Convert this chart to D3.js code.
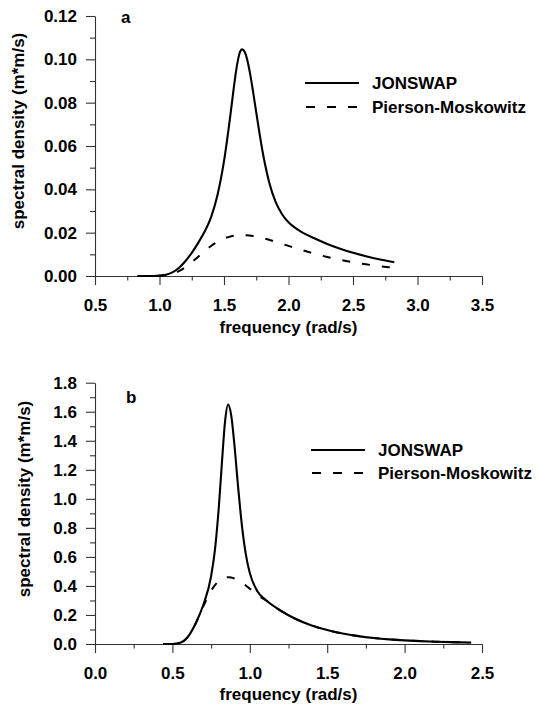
<!DOCTYPE html>
<html>
<head>
<meta charset="utf-8">
<script src="https://cdn.jsdelivr.net/npm/d3@7"></script>
<style>
  html, body { margin: 0; padding: 0; background: #fff; }
  svg text { font-family: "Liberation Sans", Arial, Helvetica, sans-serif; font-weight: bold; fill: #000; }
</style>
</head>
<body>
<svg id="chart" width="539" height="710"></svg>
<script>
// Panel a: short-fetch wind sea spectrum
const freqA = [0.83, 0.9, 0.95, 1.0, 1.05, 1.1, 1.15, 1.2, 1.25, 1.3, 1.35, 1.4, 1.45, 1.5, 1.55, 1.575, 1.6, 1.62, 1.64, 1.66, 1.68, 1.7, 1.725, 1.75, 1.8, 1.85, 1.9, 1.95, 2.0, 2.05, 2.1, 2.2, 2.3, 2.4, 2.5, 2.6, 2.7, 2.8, 2.82];
const jonswapA = [0, 0, 0.00003, 0.00016, 0.0006, 0.0017, 0.0037, 0.0068, 0.0107, 0.0153, 0.0205, 0.0272, 0.0375, 0.0530, 0.0745, 0.0865, 0.0970, 0.1027, 0.1046, 0.1035, 0.0998, 0.0941, 0.0852, 0.0755, 0.0571, 0.0433, 0.0342, 0.0285, 0.0248, 0.0223, 0.0204, 0.0174, 0.0148, 0.0126, 0.0107, 0.0091, 0.0077, 0.0066, 0.0064];
const pmA = [0, 0, 0.00002, 0.00009, 0.00036, 0.00101, 0.00221, 0.00402, 0.00631, 0.00888, 0.01147, 0.01383, 0.01579, 0.01727, 0.01826, 0.01858, 0.01878, 0.01887, 0.0189, 0.01887, 0.01879, 0.01867, 0.01845, 0.01818, 0.0175, 0.01669, 0.0158, 0.01485, 0.0139, 0.01295, 0.01204, 0.0103, 0.0088, 0.00749, 0.00636, 0.0054, 0.0046, 0.00393, 0.0038];

// Panel b: longer-period sea spectrum
const freqB = [0.44, 0.5, 0.55, 0.6, 0.65, 0.7, 0.75, 0.775, 0.8, 0.82, 0.84, 0.86, 0.88, 0.9, 0.925, 0.95, 0.975, 1.0, 1.05, 1.1, 1.2, 1.3, 1.4, 1.5, 1.6, 1.7, 1.8, 1.9, 2.0, 2.1, 2.2, 2.3, 2.43];
const jonswapB = [0, 0.0004, 0.0085, 0.0497, 0.1416, 0.2704, 0.4665, 0.6505, 0.9448, 1.2506, 1.532, 1.65, 1.5744, 1.3794, 1.0757, 0.8074, 0.6144, 0.4889, 0.362, 0.306, 0.229, 0.171, 0.128, 0.0965, 0.072, 0.0544, 0.0416, 0.0321, 0.0251, 0.0198, 0.0158, 0.0127, 0.0097];
const pmB = [0, 0.0004, 0.0085, 0.0497, 0.1412, 0.2605, 0.3667, 0.406, 0.4342, 0.449, 0.4574, 0.46, 0.4577, 0.4511, 0.4383, 0.4216, 0.4022, 0.3812, 0.3372, 0.303, 0.229, 0.171, 0.128, 0.0965, 0.072, 0.0544, 0.0416, 0.0321, 0.0251, 0.0198, 0.0158, 0.0127, 0.0097];

// Axis ticks
const xTicksA = [0.5, 1.0, 1.5, 2.0, 2.5, 3.0, 3.5];
const xMinorA = [0.75, 1.25, 1.75, 2.25, 2.75, 3.25];
const yTicksA = [0, 0.02, 0.04, 0.06, 0.08, 0.10, 0.12];
const yMinorA = [0.01, 0.03, 0.05, 0.07, 0.09, 0.11];
const xTicksB = [0.0, 0.5, 1.0, 1.5, 2.0, 2.5];
const xMinorB = [0.25, 0.75, 1.25, 1.75, 2.25];
const yTicksB = [0, 0.2, 0.4, 0.6, 0.8, 1.0, 1.2, 1.4, 1.6, 1.8];
const yMinorB = [0.1, 0.3, 0.5, 0.7, 0.9, 1.1, 1.3, 1.5, 1.7];

const seriesNames = ["JONSWAP", "Pierson-Moskowitz"];
const xTitle = "frequency (rad/s)";
const yTitle = "spectral density (m*m/s)";

const svg = d3.select("#chart");
const FONT = 17;

function panel(cfg) {
  const g = svg.append("g");
  const x = d3.scaleLinear().domain(cfg.xDomain).range([95, 482]);
  const y = d3.scaleLinear().domain(cfg.yDomain).range([cfg.yBottom, cfg.yTop]);

  // minor ticks
  g.append("g").attr("transform", `translate(0,${cfg.yBottom})`)
    .call(d3.axisBottom(x).tickValues(cfg.xMinor).tickSize(4.5).tickFormat(""))
    .call(a => a.select(".domain").remove());
  g.append("g").attr("transform", `translate(95,0)`)
    .call(d3.axisLeft(y).tickValues(cfg.yMinor).tickSize(5).tickFormat(""))
    .call(a => a.select(".domain").remove());

  // major axes
  g.append("g").attr("class", "xaxis").attr("transform", `translate(0,${cfg.yBottom})`)
    .call(d3.axisBottom(x).tickValues(cfg.xTicks).tickSize(9).tickSizeOuter(0)
      .tickPadding(cfg.xPad).tickFormat(d3.format(".1f")));
  g.append("g").attr("class", "yaxis").attr("transform", `translate(95,0)`)
    .call(d3.axisLeft(y).tickValues(cfg.yTicks).tickSize(9).tickSizeOuter(0)
      .tickPadding(9).tickFormat(d3.format(cfg.yFmt)));

  g.selectAll(".tick line, .domain").attr("stroke", "#333").attr("stroke-width", 1.1);
  g.selectAll(".tick text").attr("font-size", FONT)
    .attr("font-family", "'Liberation Sans', Arial, sans-serif").attr("font-weight", "bold").attr("fill", "#000");

  const line = d3.line().x(d => x(d[0])).y(d => y(d[1])).curve(d3.curveMonotoneX);

  g.append("path")
    .datum(cfg.freq.map((f, i) => [f, cfg.pm[i]]))
    .attr("d", line).attr("fill", "none").attr("stroke", "#000")
    .attr("stroke-width", 2).attr("stroke-dasharray", "8,12");
  g.append("path")
    .datum(cfg.freq.map((f, i) => [f, cfg.jonswap[i]]))
    .attr("d", line).attr("fill", "none").attr("stroke", "#000")
    .attr("stroke-width", 2.1);

  // panel letter
  g.append("text").attr("x", cfg.letterX).attr("y", cfg.letterY)
    .attr("font-size", FONT).text(cfg.letter);

  // legend
  const lg = g.append("g");
  lg.append("line").attr("x1", cfg.legX).attr("x2", cfg.legX + 54)
    .attr("y1", cfg.legY).attr("y2", cfg.legY)
    .attr("stroke", "#000").attr("stroke-width", 2);
  lg.append("line").attr("x1", cfg.legX + 1).attr("x2", cfg.legX + 53)
    .attr("y1", cfg.legY + cfg.legGap).attr("y2", cfg.legY + cfg.legGap)
    .attr("stroke", "#000").attr("stroke-width", 2).attr("stroke-dasharray", "9,12");
  lg.append("text").attr("x", cfg.legTextX).attr("y", cfg.legY + 6)
    .attr("font-size", FONT).text(seriesNames[0]);
  lg.append("text").attr("x", cfg.legTextX).attr("y", cfg.legY + cfg.legGap + 6)
    .attr("font-size", FONT).text(seriesNames[1]);

  // axis titles
  g.append("text").attr("x", 288.5).attr("y", cfg.xTitleY)
    .attr("text-anchor", "middle").attr("font-size", FONT).text(xTitle);
  g.append("text")
    .attr("transform", `translate(${cfg.yTitleX},${cfg.yTitleY}) rotate(-90)`)
    .attr("text-anchor", "middle").attr("font-size", FONT).text(yTitle);
}

panel({
  xDomain: [0.5, 3.5], yDomain: [0, 0.12], yTop: 16, yBottom: 276,
  xTicks: xTicksA, xMinor: xMinorA, yTicks: yTicksA, yMinor: yMinorA, yFmt: ".2f",
  xPad: 14, freq: freqA, jonswap: jonswapA, pm: pmA,
  letter: "a", letterX: 121, letterY: 23,
  legX: 305, legY: 83, legGap: 24, legTextX: 372,
  xTitleY: 333, yTitleX: 24, yTitleY: 131
});

panel({
  xDomain: [0, 2.5], yDomain: [0, 1.8], yTop: 382.7, yBottom: 644,
  xTicks: xTicksB, xMinor: xMinorB, yTicks: yTicksB, yMinor: yMinorB, yFmt: ".1f",
  xPad: 13.5, freq: freqB, jonswap: jonswapB, pm: pmB,
  letter: "b", letterX: 126, letterY: 403,
  legX: 311, legY: 450, legGap: 23, legTextX: 378,
  xTitleY: 700, yTitleX: 30, yTitleY: 499
});
</script>
</body>
</html>
